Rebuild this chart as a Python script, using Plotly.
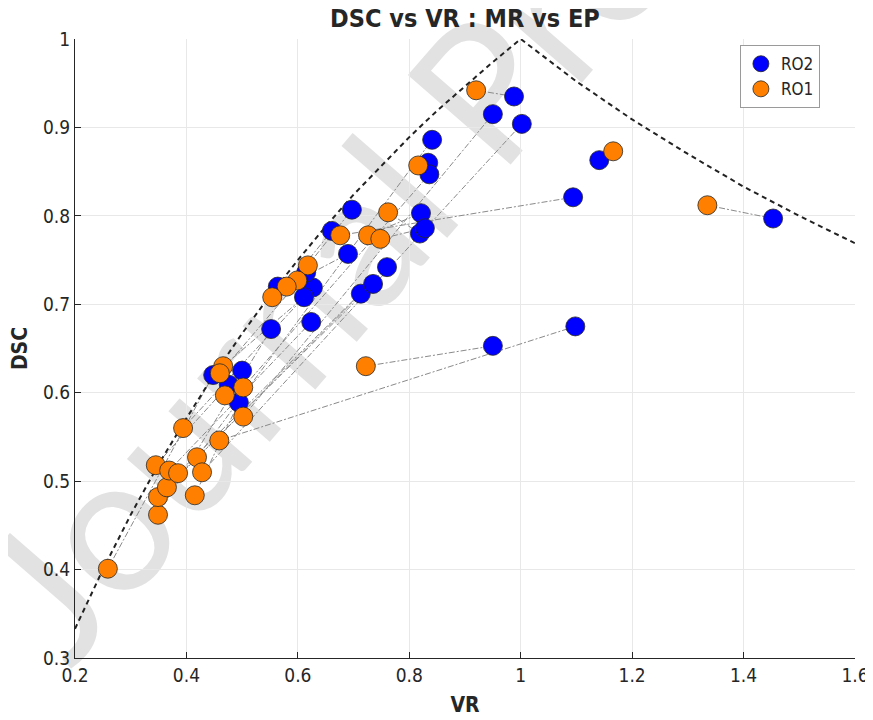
import plotly.graph_objects as go

# Paired cases: index i of RO1 and RO2 is the same case
ro1_vr = [0.920, 1.166, 1.335, 0.722, 0.459, 0.676, 0.816, 0.762, 0.726, 0.748,
          0.618, 0.599, 0.580, 0.554, 0.259, 0.349, 0.349, 0.365, 0.345, 0.369,
          0.385, 0.415, 0.419, 0.428, 0.394, 0.466, 0.460, 0.502, 0.469, 0.502]
ro1_dsc = [0.942, 0.873, 0.812, 0.630, 0.546, 0.778, 0.857, 0.804, 0.778, 0.774,
           0.744, 0.727, 0.720, 0.708, 0.401, 0.462, 0.482, 0.493, 0.518, 0.512,
           0.509, 0.484, 0.527, 0.510, 0.560, 0.630, 0.622, 0.606, 0.597, 0.573]
ro2_vr = [0.988, 1.141, 1.453, 0.950, 1.098, 1.094, 0.834, 0.819, 0.821, 0.828,
          0.697, 0.690, 0.661, 0.564, 0.448, 0.552, 0.713, 0.735, 0.476, 0.624,
          0.760, 0.494, 0.841, 1.002, 0.627, 0.611, 0.615, 0.836, 0.500, 0.950]
ro2_dsc = [0.935, 0.863, 0.797, 0.653, 0.675, 0.821, 0.860, 0.780, 0.803, 0.786,
           0.807, 0.757, 0.783, 0.720, 0.620, 0.672, 0.712, 0.723, 0.609, 0.680,
           0.742, 0.589, 0.886, 0.904, 0.719, 0.708, 0.736, 0.847, 0.625, 0.915]

# Upper bound curve
bound_vr = [0.2, 0.25, 0.3, 0.35, 0.4, 0.45, 0.5, 0.55, 0.6, 0.65, 0.7, 0.75, 0.8,
            0.85, 0.9, 0.95, 1.0, 1.1, 1.2, 1.3, 1.4, 1.5, 1.6]
bound_dsc = [0.333, 0.400, 0.462, 0.519, 0.571, 0.621, 0.667, 0.710, 0.750, 0.788,
             0.824, 0.857, 0.889, 0.919, 0.947, 0.974, 1.000, 0.952, 0.909, 0.870,
             0.833, 0.800, 0.769]

x_ticks = [0.2, 0.4, 0.6, 0.8, 1.0, 1.2, 1.4, 1.6]
x_ticklabels = ["0.2", "0.4", "0.6", "0.8", "1", "1.2", "1.4", "1.6"]
y_ticks = [0.3, 0.4, 0.5, 0.6, 0.7, 0.8, 0.9, 1.0]
y_ticklabels = ["0.3", "0.4", "0.5", "0.6", "0.7", "0.8", "0.9", "1"]

FONT = "DejaVu Sans Condensed, Liberation Sans Narrow, Roboto Condensed, Arial Narrow, sans-serif"
TXT = "#262626"

# connecting segments
lx, ly = [], []
for a, b, c, d in zip(ro1_vr, ro2_vr, ro1_dsc, ro2_dsc):
    lx += [a, b, None]
    ly += [c, d, None]

fig = go.Figure()
fig.add_trace(go.Scatter(x=lx, y=ly, mode="lines", showlegend=False, hoverinfo="skip",
                         line=dict(color="#8a8a8a", width=1, dash="6px,2px,2px,2px")))
fig.add_trace(go.Scatter(x=bound_vr, y=bound_dsc, mode="lines", showlegend=False,
                         line=dict(color="#222222", width=2, dash="5px,4px")))
fig.add_trace(go.Scatter(x=ro2_vr, y=ro2_dsc, mode="markers", name="RO2",
                         marker=dict(color="#0000ff", size=19,
                                     line=dict(color="rgba(40,40,40,0.8)", width=1))))
fig.add_trace(go.Scatter(x=ro1_vr, y=ro1_dsc, mode="markers", name="RO1",
                         marker=dict(color="#ff8000", size=19,
                                     line=dict(color="rgba(40,40,40,0.8)", width=1))))

axis_common = dict(showgrid=True, gridcolor="#e8e8e8", gridwidth=1, zeroline=False,
                   showline=True, linecolor=TXT, linewidth=1, mirror=False,
                   ticks="inside", ticklen=6, tickcolor=TXT, tickwidth=1, automargin=False,
                   tickfont=dict(family=FONT, size=19, color=TXT))

fig.update_xaxes(range=[0.2, 1.6], tickvals=x_ticks, ticktext=x_ticklabels,
                 title=dict(text="<b>VR</b>", font=dict(family=FONT, size=21, color=TXT), standoff=12),
                 **axis_common)
fig.update_yaxes(range=[0.3, 1.0], tickvals=y_ticks, ticktext=y_ticklabels,
                 title=dict(text="<b>DSC</b>", font=dict(family=FONT, size=21, color=TXT), standoff=12),
                 **axis_common)

# The page body adds an 8px offset, so the figure is 8px smaller than the window.
fig.update_layout(
    width=865, height=712,
    margin=dict(l=67, r=18, t=31, b=62),
    paper_bgcolor="white", plot_bgcolor="rgba(0,0,0,0)",
    title=dict(text="<b>DSC vs VR : MR vs EP</b>", x=0.5283, xanchor="center",
               y=0.986, yanchor="middle", automargin=False,
               font=dict(family=FONT, size=25, color=TXT)),
    legend=dict(x=0.955, y=0.99, xanchor="right", yanchor="top",
                bgcolor="white", bordercolor="#9a9a9a", borderwidth=1,
                font=dict(family=FONT, size=17, color=TXT),
                itemsizing="trace", tracegroupgap=0),
    shapes=[dict(type="rect", xref="paper", yref="paper", x0=0.432, x1=0.632, y0=0.846, y1=1.046,
                 layer="below", line=dict(width=0), fillcolor="rgba(0,0,0,0)",
                 label=dict(text="Journal Pre-proof", textangle=-49,
                            textposition="middle center",
                            font=dict(family="Lato, Open Sans, sans-serif", size=190, color="#e2e2e2")))],
)

fig.write_html("out.html")
